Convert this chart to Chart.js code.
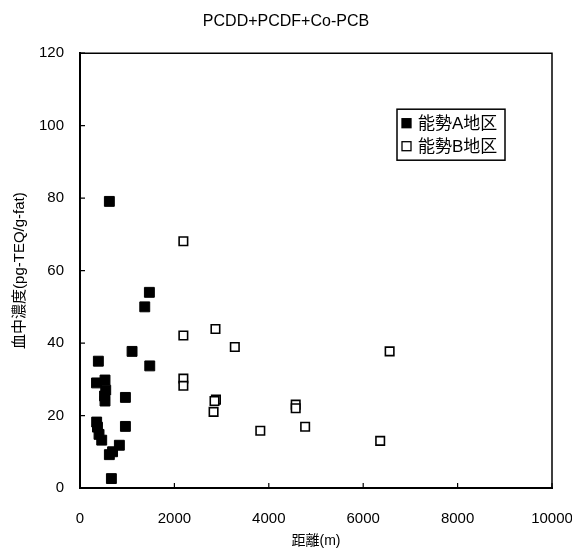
<!DOCTYPE html>
<html lang="ja">
<head>
  <meta charset="UTF-8">
  <title>PCDD+PCDF+Co-PCB</title>
  <script src="https://cdn.jsdelivr.net/npm/chart.js"></script>
  <style>
    html, body { margin: 0; padding: 0; background: #fff; }
    #wrap { width: 572px; height: 554px; }
  </style>
</head>
<body>

  <div id="wrap">
    <canvas id="scatterChart" width="572" height="554"></canvas>
  </div>

  <script>
    // data (x = distance in m, y = blood level)
    const seriesNames = ['能勢A地区', '能勢B地区'];

    const areaA_x = [622, 1470, 1372, 1103, 389, 1478, 350, 530, 545, 520, 530, 962, 353, 370, 403, 460, 962, 834, 690, 622, 665];
    const areaA_y = [79.1, 54, 50, 37.7, 35, 33.7, 29, 29.8, 27, 25.4, 24, 25, 18.2, 16.8, 14.8, 13.2, 17, 11.8, 10, 9.2, 2.6];

    const areaB_x = [2190, 2870, 2190, 3280, 6560, 2190, 2190, 2880, 2850, 2830, 4570, 4570, 3820, 4770, 6360];
    const areaB_y = [68.1, 43.9, 42.1, 38.9, 37.7, 30.2, 28.2, 24.4, 24, 21, 23, 22, 15.8, 16.9, 13];

    const xTicks = [0, 2000, 4000, 6000, 8000, 10000];
    const yTicks = [0, 20, 40, 60, 80, 100, 120];

    const FONT = "'Liberation Sans', Arial, 'Noto Sans CJK JP', sans-serif";

    function toPoints(xs, ys) {
      return xs.map((x, i) => ({ x: x, y: ys[i] }));
    }

    // inward tick marks + frame on top / right
    const frameTicks = {
      id: 'frameTicks',
      afterDraw(chart) {
        const { ctx, chartArea: a, scales } = chart;
        ctx.save();
        ctx.strokeStyle = '#000';
        ctx.lineWidth = 1.5;
        ctx.beginPath();
        ctx.moveTo(a.left, a.top);
        ctx.lineTo(a.right, a.top);
        ctx.lineTo(a.right, a.bottom);
        ctx.stroke();

        ctx.lineWidth = 1.2;
        ctx.beginPath();
        xTicks.forEach(v => {
          const px = scales.x.getPixelForValue(v);
          ctx.moveTo(px, a.bottom);
          ctx.lineTo(px, a.bottom - 5);
        });
        yTicks.forEach(v => {
          const py = scales.y.getPixelForValue(v);
          ctx.moveTo(a.left, py);
          ctx.lineTo(a.left + 5, py);
        });
        ctx.stroke();
        ctx.restore();
      }
    };

    // boxed legend inside the plot, upper right
    const boxLegend = {
      id: 'boxLegend',
      afterDraw(chart) {
        const { ctx, chartArea: a } = chart;
        const x0 = a.left + 317, y0 = a.top + 56;
        const w = 108, h = 51;
        ctx.save();
        ctx.fillStyle = '#fff';
        ctx.fillRect(x0, y0, w, h);
        ctx.strokeStyle = '#000';
        ctx.lineWidth = 1.5;
        ctx.strokeRect(x0, y0, w, h);

        ctx.font = '17px ' + FONT;
        ctx.textBaseline = 'middle';
        chart.data.datasets.forEach((ds, i) => {
          const cy = y0 + 14 + i * 23;
          const s = 9;
          ctx.fillStyle = ds.backgroundColor;
          ctx.fillRect(x0 + 5, cy - s / 2, s, s);
          ctx.lineWidth = 1.3;
          ctx.strokeStyle = '#000';
          ctx.strokeRect(x0 + 5, cy - s / 2, s, s);
          ctx.fillStyle = '#000';
          ctx.fillText(ds.label, x0 + 21, cy + 1);
        });
        ctx.restore();
      }
    };

    const ctx1 = document.getElementById('scatterChart').getContext('2d');
    new Chart(ctx1, {
      type: 'scatter',
      data: {
        datasets: [
          {
            label: seriesNames[0],
            data: toPoints(areaA_x, areaA_y),
            pointStyle: 'rect',
            radius: 7,
            borderWidth: 1,
            backgroundColor: '#000',
            borderColor: '#000'
          },
          {
            label: seriesNames[1],
            data: toPoints(areaB_x, areaB_y),
            pointStyle: 'rect',
            radius: 6,
            borderWidth: 1.6,
            backgroundColor: '#fff',
            borderColor: '#000'
          }
        ]
      },
      options: {
        responsive: false,
        animation: false,
        layout: { padding: { left: 0, right: 0, top: 0, bottom: 0 } },
        plugins: {
          legend: { display: false },
          tooltip: { enabled: false },
          title: {
            display: true,
            text: 'PCDD+PCDF+Co-PCB',
            color: '#000',
            font: { family: FONT, size: 16, weight: 'normal' },
            padding: { top: 12, bottom: 22 }
          }
        },
        scales: {
          x: {
            type: 'linear',
            min: 0,
            max: 10000,
            afterBuildTicks: s => { s.ticks = xTicks.map(v => ({ value: v })); },
            afterFit: s => {
              s.height = 66;
              s.paddingLeft = 0;
              s.paddingRight = 20;
            },
            grid: { display: false },
            border: { display: true, color: '#000', width: 2 },
            ticks: {
              color: '#000',
              padding: 14,
              maxRotation: 0,
              font: { family: FONT, size: 15 },
              callback: v => String(v)
            },
            title: {
              display: true,
              text: '距離(m)',
              color: '#000',
              font: { family: FONT, size: 14 },
              padding: { top: 4, bottom: 4.6 }
            }
          },
          y: {
            type: 'linear',
            min: 0,
            max: 120,
            afterBuildTicks: s => { s.ticks = yTicks.map(v => ({ value: v })); },
            afterFit: s => { s.width = 80; },
            grid: { display: false },
            border: { display: true, color: '#000', width: 2 },
            ticks: {
              color: '#000',
              padding: 8,
              font: { family: FONT, size: 15 },
              callback: v => String(v)
            },
            title: {
              display: true,
              text: '血中濃度(pg-TEQ/g-fat)',
              color: '#000',
              font: { family: FONT, size: 15 },
              padding: { top: 11, bottom: 4 }
            }
          }
        }
      },
      plugins: [frameTicks, boxLegend]
    });
  </script>

</body>
</html>
